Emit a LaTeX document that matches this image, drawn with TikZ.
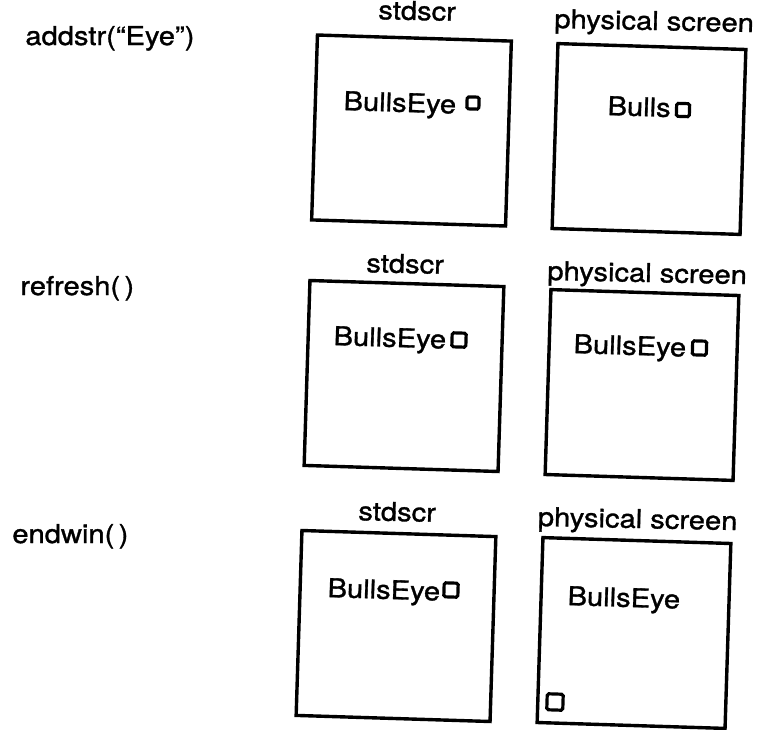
\documentclass[tikz,border=0pt]{standalone}
\usepackage{fontspec}
\setmainfont[FakeStretch=1.12, FakeBold=1.2]{TeX Gyre Heros}
\usetikzlibrary{positioning}
\tikzset{
  stdbox/.style={draw, line width=1.7pt, minimum width=97pt, minimum height=92.5pt, rotate=-1.8},
  physbox/.style={stdbox, minimum width=94pt},
  cursorbox/.style={draw, line width=1.6pt, minimum size=7pt, inner sep=0pt, rounded corners=0.8pt, rotate=-1.8},
  screentext/.style={anchor=base west, inner sep=0pt, rotate=-1.8},
  headtext/.style={anchor=base, inner sep=0pt, rotate=-1.2},
  calltext/.style={anchor=base west, inner sep=0pt}
}

\begin{document}
\begin{tikzpicture}[x=0.5pt, y=-0.5pt, every node/.style={font=\fontsize{13}{15}\selectfont}]
  \useasboundingbox (0,0) rectangle (757,730);
  % calls
  \node[calltext] (c1) at (25,45) {addstr(“Eye”)};
  \node[calltext] (c2) at (20,295) {refresh(\,)};
  \node[calltext] (c3) at (12,543) {endwin(\,)};
  % row 1
  \node[stdbox] (s1) at (411.5,130.5) {};
  \node[physbox] (p1) at (649,139) {};
  \node[headtext] (hs1) at (417,20) {stdscr};
  \node[headtext] (hp1) at (654,30) {physical screen};
  \node[screentext] (ts1) at (343,110) {BullsEye};
  \node[screentext] (tp1) at (607,115) {Bulls};
  \node[cursorbox, minimum size=6pt] (ks1) at (473,103) {};
  \node[cursorbox, minimum size=6.5pt] (kp1) at (683,110) {};
  % row 2
  \node[stdbox] (s2) at (404,376) {};
  \node[physbox] (p2) at (642,385) {};
  \node[headtext] (hs2) at (405,273) {stdscr};
  \node[headtext] (hp2) at (647,282) {physical screen};
  \node[screentext] (ts2) at (333,345) {BullsEye};
  \node[screentext] (tp2) at (573,353) {BullsEye};
  \node[cursorbox] (ks2) at (459,340) {};
  \node[cursorbox] (kp2) at (699.5,348) {};
  % row 3
  \node[stdbox] (s3) at (396,626) {};
  \node[physbox] (p3) at (634,633) {};
  \node[headtext] (hs3) at (397,521) {stdscr};
  \node[headtext] (hp3) at (637.5,528) {physical screen};
  \node[screentext] (ts3) at (327,597) {BullsEye};
  \node[screentext] (tp3) at (567,605) {BullsEye};
  \node[cursorbox] (ks3) at (451,590) {};
  \node[cursorbox, minimum size=8pt] (kp3) at (555,702) {};
\end{tikzpicture}
\end{document}
